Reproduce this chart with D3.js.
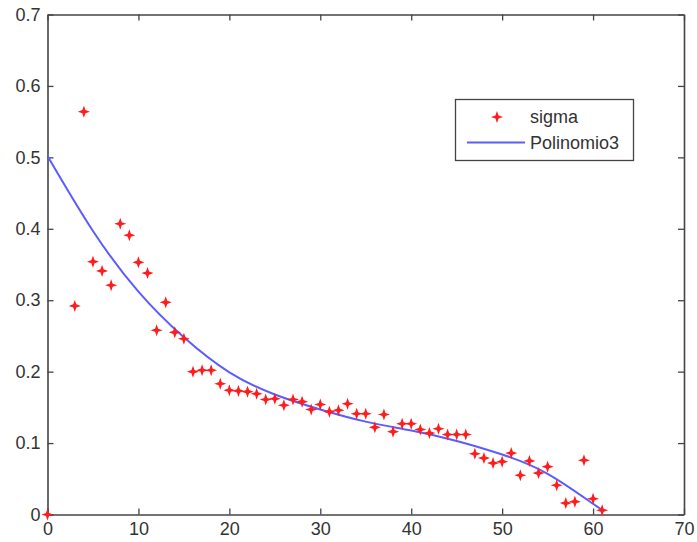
<!DOCTYPE html>
<html>
<head>
<meta charset="utf-8">
<script src="https://cdn.jsdelivr.net/npm/d3@7"></script>
<style>
  body { margin: 0; background: #fff; }
  text { font-family: Arial, "Liberation Sans", sans-serif; }
</style>
</head>
<body>
<div id="graf"></div>
<script>
// datos
var xSigma = [0, 3, 4, 5, 6, 7, 8, 9, 10, 11, 12, 13, 14, 15, 16, 17, 18, 19, 20,
  21, 22, 23, 24, 25, 26, 27, 28, 29, 30, 31, 32, 33, 34, 35, 36, 37, 38, 39, 40,
  41, 42, 43, 44, 45, 46, 47, 48, 49, 50, 51, 52, 53, 54, 55, 56, 57, 58, 59, 60, 61];
var ySigma = [0, 0.292, 0.564, 0.354, 0.341, 0.321, 0.407, 0.391, 0.353, 0.338, 0.258, 0.297, 0.255, 0.246, 0.200, 0.202, 0.202, 0.183, 0.174,
  0.173, 0.172, 0.169, 0.161, 0.162, 0.153, 0.161, 0.158, 0.147, 0.154, 0.144, 0.146, 0.155, 0.141, 0.141, 0.122, 0.140, 0.116, 0.127, 0.127,
  0.119, 0.114, 0.120, 0.112, 0.112, 0.112, 0.085, 0.079, 0.072, 0.074, 0.086, 0.055, 0.075, 0.058, 0.067, 0.041, 0.016, 0.018, 0.076, 0.022, 0.006];

var xPoli = [0, 5, 10, 15, 20, 25, 30, 35, 40, 45, 50, 55, 60, 61];
var yPoli = [0.502, 0.397, 0.312, 0.248, 0.199, 0.168, 0.147, 0.130, 0.1175, 0.103, 0.084, 0.057, 0.015, 0.007];

var xTicks = [0, 10, 20, 30, 40, 50, 60, 70];
var yTicks = [0, 0.1, 0.2, 0.3, 0.4, 0.5, 0.6, 0.7];
var leyenda = ["sigma", "Polinomio3"];

//----------------------------------------------------------------
var largeur = 697, hauteur = 542;
var m = {left: 47.5, right: 684, top: 14.5, bottom: 514.5};
var svg = d3.select("#graf").append("svg")
  .attr("width", largeur)
  .attr("height", hauteur);

var x = d3.scaleLinear().domain([0, 70]).range([m.left, m.right]);
var y = d3.scaleLinear().domain([0, 0.7]).range([m.bottom, m.top]);

var colAxe = "#444";

// ejes (caja estilo matlab con ticks hacia dentro)
svg.append("g")
  .attr("transform", "translate(0," + m.bottom + ")")
  .call(d3.axisBottom(x).tickValues(xTicks).tickSizeInner(-6).tickSizeOuter(0).tickPadding(8).tickFormat(d3.format("d")));
svg.append("g")
  .attr("transform", "translate(0," + m.top + ")")
  .call(d3.axisTop(x).tickValues(xTicks).tickSizeInner(-6).tickSizeOuter(0).tickFormat(""));
svg.append("g")
  .attr("transform", "translate(" + m.left + ",0)")
  .call(d3.axisLeft(y).tickValues(yTicks).tickSizeInner(-6).tickSizeOuter(0).tickPadding(7).tickFormat(function(d){ return d === 0 ? "0" : d3.format(".1f")(d); }));
svg.append("g")
  .attr("transform", "translate(" + m.right + ",0)")
  .call(d3.axisRight(y).tickValues(yTicks).tickSizeInner(-6).tickSizeOuter(0).tickFormat(""));

svg.selectAll(".domain").attr("stroke", colAxe).attr("stroke-width", 1.6);
svg.selectAll(".tick line").attr("stroke", colAxe).attr("stroke-width", 1.3);
svg.selectAll(".tick text")
  .attr("fill", "#333")
  .style("font-size", "18px");

// curva polinomio
var linea = d3.line()
  .x(function(d){ return x(d[0]); })
  .y(function(d){ return y(d[1]); })
  .curve(d3.curveNatural);
svg.append("path")
  .datum(d3.zip(xPoli, yPoli))
  .attr("fill", "none")
  .attr("stroke", "#5c5cff")
  .attr("stroke-width", 2)
  .attr("d", linea);

// marcador estrella 4 puntas
function estrella(r, ri) {
  var p = d3.path();
  for (var i = 0; i < 8; i++) {
    var a = i * Math.PI / 4 - Math.PI / 2;
    var rr = (i % 2 === 0) ? r : ri;
    if (i === 0) p.moveTo(rr * Math.cos(a), rr * Math.sin(a));
    else p.lineTo(rr * Math.cos(a), rr * Math.sin(a));
  }
  p.closePath();
  return p.toString();
}
var defs = svg.append("defs");
defs.append("filter").attr("id", "flou")
  .append("feGaussianBlur").attr("stdDeviation", 0.6);

svg.append("g").attr("filter", "url(#flou)")
  .selectAll("path")
  .data(d3.zip(xSigma, ySigma))
  .enter()
  .append("path")
  .attr("transform", function(d){ return "translate(" + x(d[0]) + "," + y(d[1]) + ")"; })
  .attr("d", estrella(6, 2.2))
  .attr("fill", "#ff1a1a");

// leyenda
var leg = svg.append("g");
leg.append("rect")
  .attr("x", 455.5).attr("y", 99.5)
  .attr("width", 178).attr("height", 61)
  .attr("fill", "#fff")
  .attr("stroke", colAxe)
  .attr("stroke-width", 1.3);
leg.append("path")
  .attr("transform", "translate(497,117)")
  .attr("d", estrella(6, 2.2))
  .attr("fill", "#ff1a1a")
  .attr("filter", "url(#flou)");
leg.append("line")
  .attr("x1", 467).attr("x2", 525)
  .attr("y1", 142.5).attr("y2", 142.5)
  .attr("stroke", "#5c5cff")
  .attr("stroke-width", 2);
leg.selectAll("text")
  .data(leyenda)
  .enter()
  .append("text")
  .attr("x", 530)
  .attr("y", function(d, i){ return 123 + i * 26; })
  .attr("fill", "#333")
  .style("font-size", "18px")
  .text(function(d){ return d; });
</script>
</body>
</html>
